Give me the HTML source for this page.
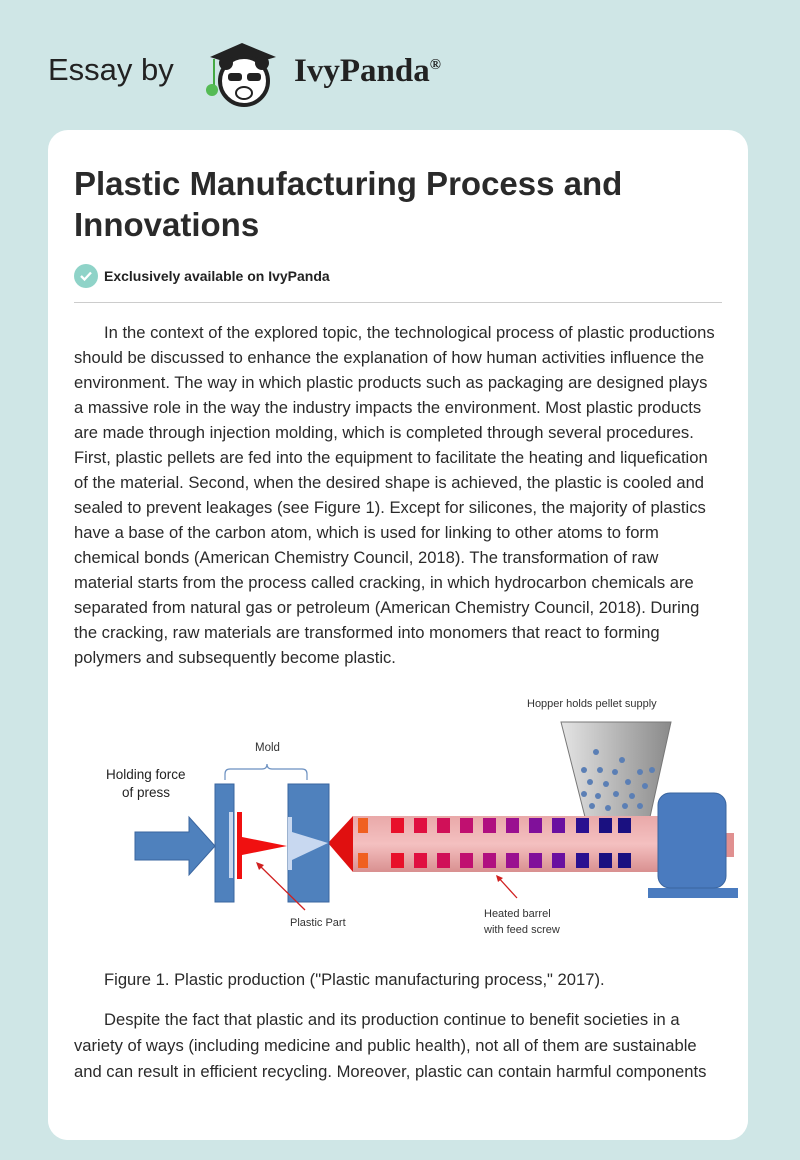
<!DOCTYPE html>
<html><head><meta charset="utf-8"><style>
body{margin:0;width:800px;height:1160px;background:#cfe6e6;font-family:"Liberation Sans",sans-serif;position:relative;overflow:hidden}
.card{position:absolute;left:48px;top:130px;width:700px;height:1010px;background:#fff;border-radius:20px}
h1{position:absolute;left:74px;top:163px;margin:0;font-size:33px;line-height:41px;font-weight:bold;color:#2a2a2a;width:660px}
.excl{position:absolute;left:74px;top:263px;font-size:14px;font-weight:bold;color:#222}
.hr{position:absolute;left:74px;top:302px;width:648px;height:1px;background:#ccc}
.p{position:absolute;left:74px;width:645px;font-size:16.6px;line-height:25px;color:#2a2a2a}
.p span{padding-left:30px}
</style></head><body>
<div style="position:absolute;left:48px;top:52px;font-size:31px;color:#222">Essay by</div>
<svg style="position:absolute;left:200px;top:35px" width="90" height="75">
<polygon points="10,22 42,8 76,22 42,32" fill="#222"/>
<circle cx="44" cy="46" r="24" fill="#fff" stroke="#222" stroke-width="4"/>
<circle cx="26" cy="28" r="7" fill="#222"/><circle cx="62" cy="28" r="7" fill="#222"/>
<rect x="28" y="38" width="14" height="8" rx="3" fill="#222"/><rect x="47" y="38" width="14" height="8" rx="3" fill="#222"/>
<ellipse cx="44" cy="58" rx="8" ry="6" fill="#fff" stroke="#222" stroke-width="2"/>
<line x1="14" y1="24" x2="14" y2="50" stroke="#4a4" stroke-width="2"/>
<circle cx="12" cy="55" r="6" fill="#5b5"/>
</svg>
<div style="position:absolute;left:294px;top:53px;font-family:'Liberation Serif',serif;font-weight:bold;font-size:33px;color:#222">IvyPanda<sup style="font-size:15px">®</sup></div>
<div class="card"></div>
<h1>Plastic Manufacturing Process and Innovations</h1>
<svg style="position:absolute;left:74px;top:264px" width="24" height="24"><circle cx="12" cy="12" r="12" fill="#8fd3c8"/><path d="M7 12l3.5 3.5 6.5-7" stroke="#fff" stroke-width="2.3" fill="none"/></svg>
<div class="excl" style="left:104px;top:268px">Exclusively available on IvyPanda</div>
<div class="hr"></div>
<div class="p" style="top:320px"><span></span>In the context of the explored topic, the technological process of plastic productions should be discussed to enhance the explanation of how human activities influence the environment. The way in which plastic products such as packaging are designed plays a massive role in the way the industry impacts the environment. Most plastic products are made through injection molding, which is completed through several procedures. First, plastic pellets are fed into the equipment to facilitate the heating and liquefication of the material. Second, when the desired shape is achieved, the plastic is cooled and sealed to prevent leakages (see Figure 1). Except for silicones, the majority of plastics have a base of the carbon atom, which is used for linking to other atoms to form chemical bonds (American Chemistry Council, 2018). The transformation of raw material starts from the process called cracking, in which hydrocarbon chemicals are separated from natural gas or petroleum (American Chemistry Council, 2018). During the cracking, raw materials are transformed into monomers that react to forming polymers and subsequently become plastic.</div>
<svg style="position:absolute;left:0;top:0" width="800" height="1160" font-family="Liberation Sans, sans-serif">
<defs><linearGradient id="hg" x1="0" x2="1"><stop offset="0" stop-color="#e4e4e4"/><stop offset="1" stop-color="#8a8a8a"/></linearGradient>
<linearGradient id="bg" x1="0" y1="0" x2="0" y2="1"><stop offset="0" stop-color="#e9a9a9"/><stop offset=".5" stop-color="#f4c0c0"/><stop offset="1" stop-color="#d99090"/></linearGradient></defs>
<text x="527" y="707" font-size="11" fill="#333">Hopper holds pellet supply</text>
<polygon points="561,722 671,722 650,817 585,817" fill="url(#hg)" stroke="#777"/>
<g fill="#5b7fb5">
<circle cx="596" cy="752" r="3"/><circle cx="622" cy="760" r="3"/><circle cx="584" cy="770" r="3"/><circle cx="600" cy="770" r="3"/><circle cx="615" cy="772" r="3"/><circle cx="640" cy="772" r="3"/><circle cx="652" cy="770" r="3"/><circle cx="590" cy="782" r="3"/><circle cx="606" cy="784" r="3"/><circle cx="628" cy="782" r="3"/><circle cx="645" cy="786" r="3"/><circle cx="584" cy="794" r="3"/><circle cx="598" cy="796" r="3"/><circle cx="616" cy="794" r="3"/><circle cx="632" cy="796" r="3"/><circle cx="592" cy="806" r="3"/><circle cx="608" cy="808" r="3"/><circle cx="625" cy="806" r="3"/><circle cx="640" cy="806" r="3"/>
</g>
<polygon points="353,816 328,843 353,872" fill="#e01010"/>
<rect x="353" y="816" width="309" height="56" fill="url(#bg)"/>
<g>
<rect x="358" y="818" width="10" height="15" fill="#f06020"/><rect x="358" y="853" width="10" height="15" fill="#f06020"/>
<rect x="391" y="818" width="13" height="15" fill="#e8102a"/><rect x="391" y="853" width="13" height="15" fill="#e8102a"/>
<rect x="414" y="818" width="13" height="15" fill="#e01040"/><rect x="414" y="853" width="13" height="15" fill="#e01040"/>
<rect x="437" y="818" width="13" height="15" fill="#d01058"/><rect x="437" y="853" width="13" height="15" fill="#d01058"/>
<rect x="460" y="818" width="13" height="15" fill="#c01070"/><rect x="460" y="853" width="13" height="15" fill="#c01070"/>
<rect x="483" y="818" width="13" height="15" fill="#b01080"/><rect x="483" y="853" width="13" height="15" fill="#b01080"/>
<rect x="506" y="818" width="13" height="15" fill="#9a1090"/><rect x="506" y="853" width="13" height="15" fill="#9a1090"/>
<rect x="529" y="818" width="13" height="15" fill="#80109a"/><rect x="529" y="853" width="13" height="15" fill="#80109a"/>
<rect x="552" y="818" width="13" height="15" fill="#6a10a0"/><rect x="552" y="853" width="13" height="15" fill="#6a10a0"/>
<rect x="576" y="818" width="13" height="15" fill="#2a1090"/><rect x="576" y="853" width="13" height="15" fill="#2a1090"/>
<rect x="599" y="818" width="13" height="15" fill="#1a1080"/><rect x="599" y="853" width="13" height="15" fill="#1a1080"/>
<rect x="618" y="818" width="13" height="15" fill="#1a1080"/><rect x="618" y="853" width="13" height="15" fill="#1a1080"/>
</g>
<rect x="648" y="888" width="90" height="10" fill="#4a7bbf"/>
<rect x="726" y="833" width="8" height="24" fill="#e09090"/>
<rect x="658" y="793" width="68" height="95" rx="12" fill="#4a7bbf" stroke="#3a659f"/>
<polygon points="135,832 189,832 189,817 215,846 189,875 189,860 135,860" fill="#4f81bd" stroke="#3a659f"/>
<rect x="215" y="784" width="19" height="118" fill="#4f81bd" stroke="#3a659f"/>
<rect x="229" y="812" width="4" height="66" fill="#c8d8f0"/>
<rect x="288" y="784" width="41" height="118" fill="#4f81bd" stroke="#3a659f"/>
<rect x="288" y="817" width="4" height="53" fill="#c8d8f0"/>
<polygon points="292,832 328,843 292,860" fill="#c8d8f0"/>
<rect x="237" y="812" width="5" height="67" fill="#f01010"/>
<polygon points="242,837 287,846 242,855" fill="#f01010"/>
<path d="M225,780 v-6 q0,-5 5,-5 h32 q5,0 5,-5 q0,5 5,5 h30 q5,0 5,5 v6" fill="none" stroke="#6a8fc0" stroke-width="1.2"/>
<text x="255" y="751" font-size="11.5" fill="#333">Mold</text>
<text x="106" y="779" font-size="13.5" fill="#222">Holding force</text>
<text x="122" y="797" font-size="13.5" fill="#222">of press</text>
<line x1="305" y1="910" x2="258" y2="864" stroke="#d02020" stroke-width="1.3"/><polygon points="256,862 264,865 259,870" fill="#d02020"/>
<line x1="517" y1="898" x2="497" y2="876" stroke="#d02020" stroke-width="1.3"/><polygon points="496,875 503,878 498,882" fill="#d02020"/>
<text x="290" y="926" font-size="11" fill="#333">Plastic Part</text>
<text x="484" y="917" font-size="11" fill="#333">Heated barrel</text>
<text x="484" y="933" font-size="11" fill="#333">with feed screw</text>
</svg>
<div class="p" style="top:967px;left:104px">Figure 1. Plastic production ("Plastic manufacturing process," 2017).</div>
<div class="p" style="top:1007px;line-height:26px"><span></span>Despite the fact that plastic and its production continue to benefit societies in a variety of ways (including medicine and public health), not all of them are sustainable and can result in efficient recycling. Moreover, plastic can contain harmful components</div>
<div style="position:absolute;left:48px;top:1088px;width:700px;height:52px;background:#fff;border-radius:0 0 20px 20px"></div>
</body></html>
